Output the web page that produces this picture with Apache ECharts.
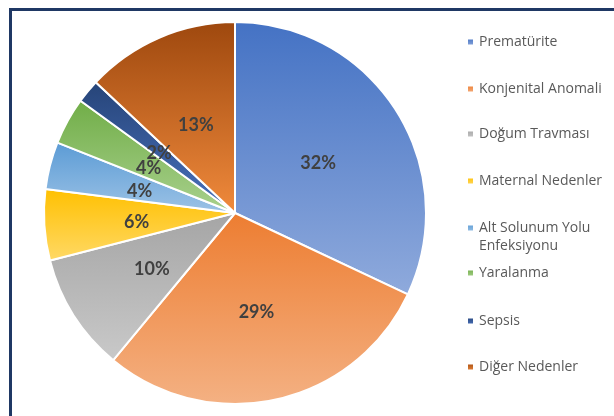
<!DOCTYPE html>
<html>
<head>
<meta charset="utf-8">
<script src="https://cdn.jsdelivr.net/npm/echarts@6/dist/echarts.min.js"></script>
<style>
  html, body { margin: 0; padding: 0; background: #fff; }
  #chart { width: 614px; height: 416px; }
</style>
</head>
<body>
<div id="chart"></div>
<script>
// categories and values (percent)
var names = ['Prematürite', 'Konjenital Anomali', 'Doğum Travması', 'Maternal Nedenler',
  'Alt Solunum Yolu Enfeksiyonu', 'Yaralanma', 'Sepsis', 'Diğer Nedenler']
var values = [32, 29, 10, 6, 4, 4, 2, 13]
// slice colours: top of gradient, bottom of gradient
var topColors = ['#4472C4', '#ED7D31', '#A5A5A5', '#FFC000', '#5B9BD5', '#70AD47', '#264478', '#9E480E']
var bottomColors = ['#8FAADC', '#F4B183', '#C9C9C9', '#FFD966', '#9DC3E6', '#A9D18E', '#4A72BE', '#F08A3C']

var chart = echarts.init(document.getElementById('chart'))

function grad(i) {
  return new echarts.graphic.LinearGradient(0, 0, 0, 1, [
    { offset: 0, color: topColors[i] },
    { offset: 1, color: bottomColors[i] }
  ])
}

// legend rows (icon centre y)
var legendY = [42, 89, 134, 181, 228, 273, 321, 367]
var legends = names.map(function(n, i) {
  var twoLine = i === 4
  return {
    orient: 'vertical',
    left: 466,
    // the wrapped item gets an empty first line so the icon sits on its first text line
    top: twoLine ? legendY[i] - 27 : legendY[i] - 9,
    padding: 0,
    icon: 'rect',
    itemWidth: 7,
    itemHeight: 7,
    selectedMode: false,
    data: [n],
    formatter: twoLine ? function() { return '\nAlt Solunum Yolu\nEnfeksiyonu' } : undefined,
    textStyle: {
      color: '#595959',
      fontFamily: 'Open Sans',
      fontSize: 14,
      lineHeight: 18
    }
  }
})

chart.setOption({
  animation: false,
  graphic: [{
    type: 'rect',
    left: 8,
    top: 7,
    shape: { width: 700, height: 500 },
    style: { fill: 'none', stroke: '#1F3864', lineWidth: 3 }
  }],
  legend: legends,
  series: [{
    type: 'pie',
    center: [235, 213],
    radius: [0, 191],
    startAngle: 90,
    clockwise: true,
    avoidLabelOverlap: false,
    itemStyle: { borderColor: '#fff', borderWidth: 2 },
    label: {
      show: true,
      position: 'inside',
      formatter: '{c}%',
      color: '#404040',
      fontFamily: 'Lato',
      fontWeight: 'bold',
      fontSize: 18,
      offset: [0, 3]
    },
    labelLayout: { hideOverlap: false },
    labelLine: { show: false },
    data: names.map(function(n, i) {
      return { name: n, value: values[i], itemStyle: { color: grad(i) } }
    })
  }]
})
</script>
</body>
</html>
